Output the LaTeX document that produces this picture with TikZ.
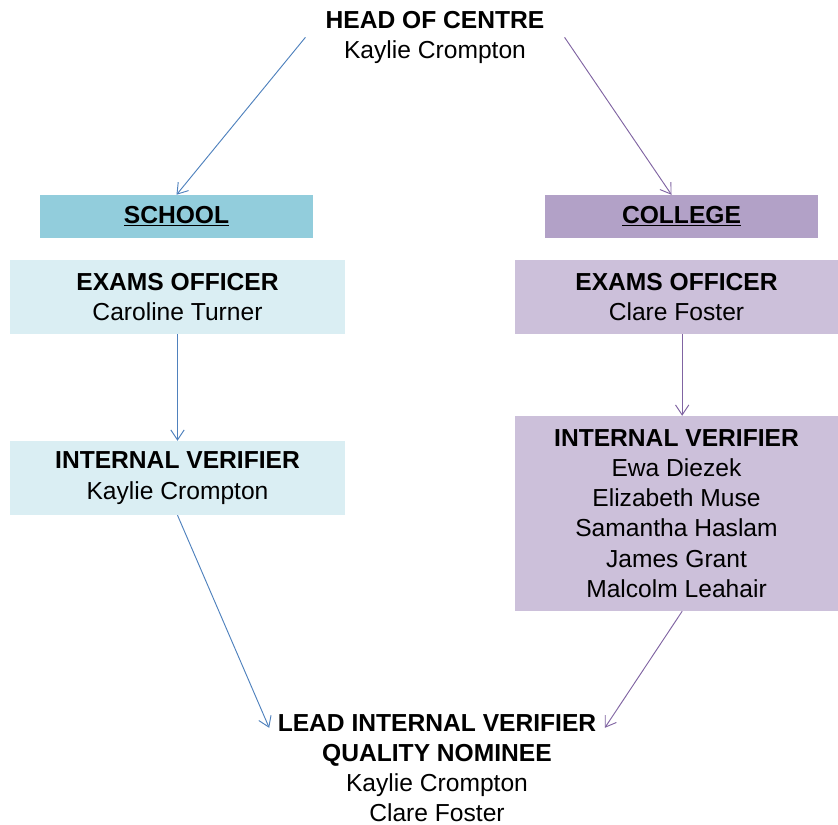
\documentclass[tikz,border=0pt]{standalone}
\usepackage{fontspec}
\setmainfont{Liberation Sans}
\usetikzlibrary{arrows.meta,calc}
\definecolor{schoolline}{HTML}{4F81BD}
\definecolor{collegeline}{HTML}{8064A2}
\definecolor{schoolhead}{HTML}{92CDDC}
\definecolor{collegehead}{HTML}{B2A1C7}
\definecolor{schoolfill}{HTML}{DAEEF3}
\definecolor{collegefill}{HTML}{CCC0DA}
\tikzset{%
  >={Straight Barb[length=3mm,width=4mm]},
  % Specifications for style of nodes:
            base/.style = {rectangle, inner sep=0pt, align=center,
                           font=\fontsize{21}{25.8}\selectfont},
  header/.style = {base, minimum width=8.19cm, minimum height=1.29cm},
    schoolbox/.style = {base, fill=schoolfill, minimum width=10.05cm},
      collegebox/.style = {base, fill=collegefill, minimum width=9.69cm},
  schoolarrow/.style = {->, schoolline, line width=0.8pt},
    collegearrow/.style = {->, collegeline, line width=0.8pt},
}

\begin{document}
\begin{tikzpicture}
    \def\a{0.17}
    \def\b{-0.42}
  \useasboundingbox (0,0) rectangle (25.14,-24.75);
  % Specification of nodes (position, etc.)
  \node (head) [base, inner xsep=0.6cm] at (13.05,-1.12)
        {\textbf{HEAD OF CENTRE}\\Kaylie Crompton};
  \node (school) [header, fill=schoolhead] at (5.295,-6.495) {\underline{\textbf{SCHOOL}}};
  \node (college) [header, fill=collegehead] at (20.445,-6.495) {\underline{\textbf{COLLEGE}}};
  \node (exl) [schoolbox, minimum height=2.22cm] at (5.325,-8.91)
        {\textbf{EXAMS OFFICER}\\Caroline Turner};
  \node (exr) [collegebox, minimum height=2.22cm] at (20.295,-8.91)
        {\textbf{EXAMS OFFICER}\\Clare Foster};
  \node (ivl) [schoolbox, minimum height=2.22cm] at (5.325,-14.34)
        {\textbf{INTERNAL VERIFIER}\\Kaylie Crompton};
  \node (ivr) [collegebox, minimum height=5.85cm] at (20.295,-15.405)
        {\textbf{INTERNAL VERIFIER}\\Ewa Diezek\\Elizabeth Muse\\Samantha Haslam\\James Grant\\Malcolm Leahair};
  \node (lead) [base, inner xsep=0.25cm] at (13.11,-23.04)
        {\textbf{LEAD INTERNAL VERIFIER}\\\textbf{QUALITY NOMINEE}\\Kaylie Crompton\\Clare Foster};
  % Specification of lines between nodes specified above
\draw[schoolarrow]   (head.west) -- (school.north);
\draw[collegearrow]  (head.east) -- ($(college.north)+(-0.3,0)$);
\draw[schoolarrow]   (exl) -- (ivl);
\draw[collegearrow]  ($(exr.south)+(\a,0)$) -- ($(ivr.north)+(\a,0)$);
\draw[schoolarrow]   (ivl.south) -- ($(lead.north west)+(0,\b)$);
\draw[collegearrow]  ($(ivr.south)+(\a,0)$) -- ($(lead.north east)+(0,\b)$);
\end{tikzpicture}
\end{document}
